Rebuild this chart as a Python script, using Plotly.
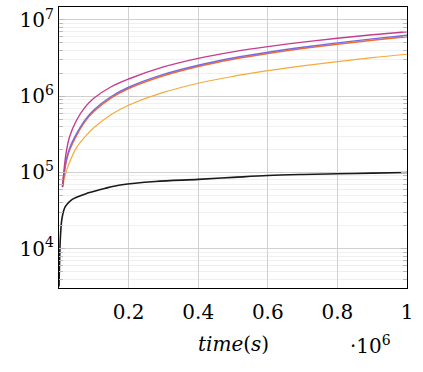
import plotly.graph_objects as go

# time in units of 1e6 s
t_col = [0.01, 0.02, 0.03, 0.05, 0.075, 0.1, 0.15, 0.2, 0.3, 0.4, 0.5, 0.6, 0.7, 0.8, 0.9, 1.0]
magenta = [6.5e4, 1.75e5, 2.9e5, 4.8e5, 7.2e5, 9.4e5, 1.33e6, 1.68e6, 2.42e6, 3.14e6, 3.82e6, 4.47e6, 5.12e6, 5.76e6, 6.4e6, 7.0e6]
blue = [6.5e4, 1.4e5, 2.05e5, 3.2e5, 4.9e5, 6.6e5, 9.9e5, 1.31e6, 1.93e6, 2.55e6, 3.17e6, 3.77e6, 4.38e6, 5.0e6, 5.65e6, 6.3e6]
red = [6.5e4, 1.35e5, 1.95e5, 3.05e5, 4.7e5, 6.3e5, 9.5e5, 1.26e6, 1.85e6, 2.45e6, 3.05e6, 3.63e6, 4.22e6, 4.8e6, 5.42e6, 6.05e6]
orange = [6.3e4, 1.0e5, 1.35e5, 2.1e5, 2.95e5, 3.85e5, 5.75e5, 7.6e5, 1.12e6, 1.48e6, 1.82e6, 2.16e6, 2.5e6, 2.84e6, 3.2e6, 3.55e6]

t_black = [0, 0.002, 0.004, 0.0086, 0.018, 0.037, 0.085, 0.133, 0.181, 0.277, 0.4, 0.5, 0.6, 0.7, 0.8, 0.9, 1.0]
black = [3.2e3, 8e3, 1.4e4, 2.5e4, 3.55e4, 4.4e4, 5.4e4, 6.2e4, 6.9e4, 7.6e4, 8.1e4, 8.6e4, 9.1e4, 9.4e4, 9.6e4, 9.8e4, 1.0e5]

x_tickvals = [0.2, 0.4, 0.6, 0.8, 1.0]
x_ticktext = ["0.2", "0.4", "0.6", "0.8", "1"]
y_tickvals = [1e4, 1e5, 1e6, 1e7]
y_ticktext = ["10<sup>4</sup>", "10<sup>5</sup>", "10<sup>6</sup>", "10<sup>7</sup>"]

SCALE = 1e6
FONT = "DejaVu Serif, Liberation Serif, serif"

fig = go.Figure()
fig.add_trace(go.Scatter(x=[v * SCALE for v in t_black], y=black, mode="lines",
                         line=dict(color="#1a1a1a", width=1.6), line_shape="spline"))
fig.add_trace(go.Scatter(x=[v * SCALE for v in t_col], y=orange, mode="lines",
                         line=dict(color="#f4aa3c", width=1.2), line_shape="spline"))
fig.add_trace(go.Scatter(x=[v * SCALE for v in t_col], y=red, mode="lines",
                         line=dict(color="#f26a2c", width=1.6), line_shape="spline"))
fig.add_trace(go.Scatter(x=[v * SCALE for v in t_col], y=blue, mode="lines",
                         line=dict(color="#7a6ae0", width=1.4), line_shape="spline"))
fig.add_trace(go.Scatter(x=[v * SCALE for v in t_col], y=magenta, mode="lines",
                         line=dict(color="#c43d8e", width=1.4), line_shape="spline"))

fig.update_layout(
    width=423, height=372,
    margin=dict(l=59, r=16, t=7, b=84),
    paper_bgcolor="white", plot_bgcolor="white",
    showlegend=False,
    font=dict(family=FONT, size=20, color="black"),
    xaxis=dict(
        range=[0, 1.0 * SCALE],
        tickvals=[v * SCALE for v in x_tickvals], ticktext=x_ticktext,
        showgrid=True, gridcolor="#d0d0d0", gridwidth=1,
        showline=True, linecolor="black", linewidth=1.2, mirror=True,
        ticks="", zeroline=False, ticklabelstandoff=6,
        tickfont=dict(family=FONT, size=20),
    ),
    yaxis=dict(
        type="log", range=[3.484, 7.17],
        tickvals=y_tickvals, ticktext=y_ticktext,
        showgrid=True, gridcolor="#d0d0d0", gridwidth=1,
        showline=True, linecolor="black", linewidth=1.2, mirror="allticks",
        ticks="inside", ticklen=6, tickcolor="#bbbbbb",
        zeroline=False,
        tickfont=dict(family=FONT, size=20),
        minor=dict(ticks="inside", ticklen=4, tickcolor="#bbbbbb",
                   showgrid=True, gridcolor="#f0f0f0", gridwidth=1,
                   dtick="D1"),
    ),
    annotations=[
        dict(text="<i>time</i>(<i>s</i>)", x=0.5, y=-0.15, xref="paper", yref="paper",
             xanchor="center", yanchor="top", showarrow=False,
             font=dict(family=FONT, size=20)),
        dict(text="·10<sup>6</sup>", x=0.895, y=-0.15, xref="paper", yref="paper",
             xanchor="center", yanchor="top", showarrow=False,
             font=dict(family=FONT, size=20)),
    ],
)

fig.write_html("out.html", config={"displayModeBar": False},
               post_script="document.body.style.margin='0';document.body.style.overflow='hidden';")
